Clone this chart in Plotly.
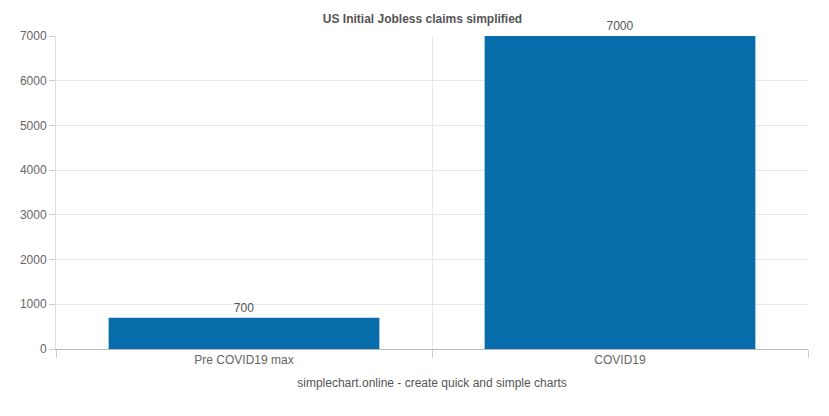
import plotly.graph_objects as go

categories = ["Pre COVID19 max", "COVID19"]
values = [700, 7000]

fig = go.Figure(go.Bar(
    x=categories, y=values, width=0.72,
    marker=dict(color="#066DAA", line=dict(width=0)),
    text=[str(v) for v in values], textposition="outside",
    textfont=dict(color="#555", size=12), cliponaxis=False,
))
fig.update_layout(
    width=829, height=416,
    margin=dict(l=48, r=29, t=28, b=75, autoexpand=False),
    paper_bgcolor="white", plot_bgcolor="white",
    font=dict(family="Liberation Sans, Arial", size=12, color="#666"),
    title=dict(text="<b>US Initial Jobless claims simplified</b>", x=0.5, xanchor="center",
               y=0.985, yanchor="top", font=dict(size=12, color="#555")),
    showlegend=False,
)
fig.update_xaxes(
    tickson="boundaries", showgrid=True, gridcolor="#e6e6e6",
    ticks="outside", ticklen=8, tickcolor="#ccc",
    showline=True, linecolor="#bbb",
    title=dict(text="simplechart.online - create quick and simple charts", font=dict(size=12, color="#555"), standoff=12),
)
fig.update_yaxes(
    range=[0, 7000], dtick=1000, showgrid=True, gridcolor="#e6e6e6",
    ticks="outside", ticklen=6, tickcolor="#ccc",
    showline=True, linecolor="#ddd", zeroline=False,
)
fig.write_html("out.html")
